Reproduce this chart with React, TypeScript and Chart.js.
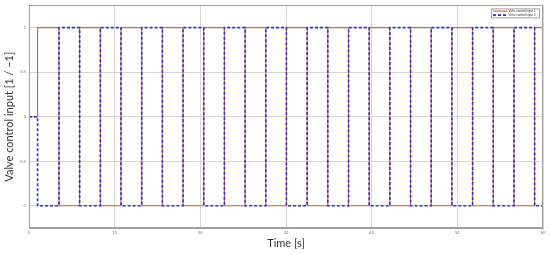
import React, { useEffect, useRef } from "react";
import { Chart, registerables } from "chart.js";

Chart.register(...registerables);

// Switching instants of the valve control signals [s]
const switchTimes = [
  0, 1, 3.5, 5.91, 8.33, 10.74, 13.16, 15.57, 17.98, 20.4, 22.81, 25.23, 27.64,
  30.05, 32.47, 34.88, 37.3, 39.71, 42.12, 44.54, 46.95, 49.37, 51.78, 54.19,
  56.61, 59.02, 60,
];
// Valve control input 1 (value held from each instant onward)
const valve1 = [
  0, 1, -1, 1, -1, 1, -1, 1, -1, 1, -1, 1, -1, 1, -1, 1, -1, 1, -1, 1, -1, 1,
  -1, 1, -1, 1, 1,
];
// Valve control input 2
const valve2 = [
  0, -1, 1, -1, 1, -1, 1, -1, 1, -1, 1, -1, 1, -1, 1, -1, 1, -1, 1, -1, 1, -1,
  1, -1, 1, -1, -1,
];
const seriesNames = ["Valve control input 1", "Valve control input 2"];
const yTickValues = [-1, -0.5, 0, 0.5, 1];
const xTitle = "Time [s]";
const yTitle = "Valve control input [1 / \u22121]";

const RED = "#d4682f";
const BLUE = "#2f2fdc";

const framePlugin = {
  id: "frame",
  afterDatasetsDraw(chart: any) {
    const { ctx, chartArea } = chart;
    ctx.save();
    ctx.strokeStyle = "#a0a0a0";
    ctx.lineWidth = 1;
    ctx.strokeRect(
      Math.round(chartArea.left) + 0.5,
      Math.round(chartArea.top) + 0.5,
      Math.round(chartArea.right - chartArea.left) - 1,
      Math.round(chartArea.bottom - chartArea.top) - 1
    );
    ctx.restore();
  },
};

const legendPlugin = {
  id: "boxLegend",
  afterDraw(chart: any) {
    const { ctx, chartArea } = chart;
    const w = 48;
    const h = 9;
    const x = chartArea.right - 4 - w;
    const y = chartArea.top + 3;
    ctx.save();
    ctx.fillStyle = "#ffffff";
    ctx.fillRect(x, y, w, h);
    ctx.strokeStyle = "#8a8a8a";
    ctx.lineWidth = 0.8;
    ctx.strokeRect(x + 0.5, y + 0.5, w, h);
    chart.data.datasets.forEach((ds: any, i: number) => {
      const cy = y + 2.7 + i * 4;
      ctx.strokeStyle = ds.borderColor;
      ctx.lineWidth = ds.borderWidth;
      ctx.setLineDash(ds.borderDash || []);
      ctx.beginPath();
      ctx.moveTo(x + 2, cy);
      ctx.lineTo(x + 16, cy);
      ctx.stroke();
      ctx.setLineDash([]);
      ctx.fillStyle = "#333";
      ctx.font = "3px Lato, sans-serif";
      ctx.textBaseline = "middle";
      ctx.textAlign = "left";
      ctx.fillText(ds.label, x + 17.5, cy);
    });
    ctx.restore();
  },
};

export default function App() {
  const ref = useRef<HTMLCanvasElement | null>(null);

  useEffect(() => {
    const canvas = ref.current;
    if (!canvas) return;
    const chart = new Chart(canvas, {
      type: "line",
      data: {
        datasets: [
          {
            label: seriesNames[0],
            data: switchTimes.map((t, i) => ({ x: t, y: valve1[i] })),
            borderColor: RED,
            borderWidth: 1.1,
            stepped: "before",
            pointRadius: 0,
            fill: false,
            order: 1,
          },
          {
            label: seriesNames[1],
            data: switchTimes.map((t, i) => ({ x: t, y: valve2[i] })),
            borderColor: BLUE,
            borderWidth: 1.6,
            borderDash: [3, 2],
            stepped: "before",
            pointRadius: 0,
            fill: false,
            order: 0,
          },
        ],
      },
      options: {
        responsive: false,
        animation: false,
        devicePixelRatio: 1,
        layout: { padding: { top: 5, right: 7, left: 0, bottom: 0 } },
        plugins: {
          legend: { display: false },
          tooltip: { enabled: false },
        },
        scales: {
          x: {
            type: "linear",
            min: 0,
            max: 60,
            afterFit: (s: any) => {
              s.height = 26;
            },
            ticks: {
              stepSize: 10,
              padding: 2,
              font: { size: 4, family: "Lato, sans-serif" },
              color: "#777",
              maxRotation: 0,
            },
            grid: { color: "#d6d6d6", lineWidth: 1, drawTicks: false },
            border: { display: true, color: "#a0a0a0" },
            title: {
              display: true,
              text: xTitle,
              font: { size: 11, family: "Lato, sans-serif" },
              color: "#333",
              padding: { top: 0, bottom: 4 },
            },
          },
          y: {
            type: "linear",
            min: -1.25,
            max: 1.25,
            afterFit: (s: any) => {
              s.width = 29;
            },
            afterBuildTicks: (s: any) => {
              s.ticks = yTickValues.map((v) => ({ value: v }));
            },
            ticks: {
              padding: 3,
              font: { size: 4, family: "Lato, sans-serif" },
              color: "#777",
              callback: (v: any) => String(v),
            },
            grid: { color: "#d6d6d6", lineWidth: 1, drawTicks: false },
            border: { display: true, color: "#a0a0a0" },
            title: {
              display: true,
              text: yTitle,
              font: { size: 11, family: "Lato, sans-serif" },
              color: "#333",
              padding: { top: 3, bottom: 0 },
            },
          },
        },
      } as any,
      plugins: [framePlugin, legendPlugin],
    });
    return () => chart.destroy();
  }, []);

  return (
    <div style={{ position: "absolute", left: 0, top: 0, width: 550, height: 254, background: "#fff" }}>
      <canvas ref={ref} width={550} height={254} style={{ display: "block" }} />
    </div>
  );
}
